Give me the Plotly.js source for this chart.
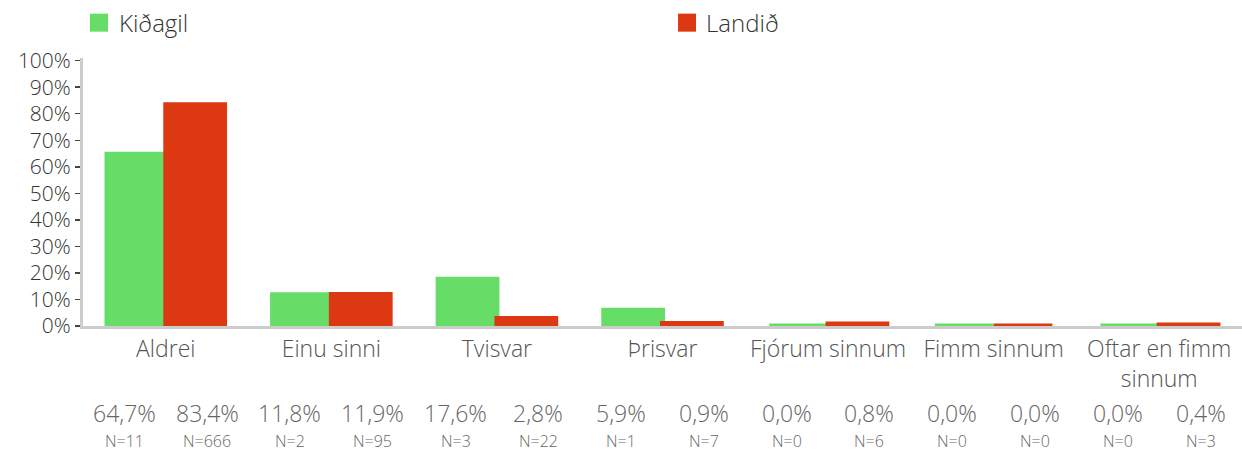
<!DOCTYPE html>
<html>
<head>
<meta charset="utf-8">
<script src="https://cdn.plot.ly/plotly-3.0.1.min.js"></script>
<style>html,body{margin:0;padding:0;background:#fff;}#chart{width:1242px;height:452px;}</style>
</head>
<body>
<div id="chart"></div>
<script>
const categories = ["Aldrei", "Einu sinni", "Tvisvar", "Þrisvar", "Fjórum sinnum", "Fimm sinnum", "Oftar en fimm<br>sinnum"];
const seriesNames = ["Kiðagil", "Landið"];
const kidagilValues = [64.7, 11.8, 17.6, 5.9, 0.0, 0.0, 0.0];
const landidValues = [83.4, 11.9, 2.8, 0.9, 0.8, 0.0, 0.4];
const kidagilN = [11, 2, 3, 1, 0, 0, 0];
const landidN = [666, 95, 22, 7, 6, 0, 3];
const yTickVals = [0, 10, 20, 30, 40, 50, 60, 70, 80, 90, 100];

const GREEN = "#66dd66";
const RED = "#dc3912";
const FONT = "Open Sans";

const traces = [
  {type: "bar", name: seriesNames[0], x: categories.map((c, i) => i), y: kidagilValues,
   marker: {color: GREEN, line: {color: GREEN, width: 5}}, showlegend: false, hoverinfo: "skip"},
  {type: "bar", name: seriesNames[1], x: categories.map((c, i) => i), y: landidValues,
   marker: {color: RED, line: {color: RED, width: 5}}, showlegend: false, hoverinfo: "skip"}
];

const fmt = v => v.toFixed(1).replace(".", ",") + "%";
const annotations = [];
const series = [[kidagilValues, kidagilN, -0.25], [landidValues, landidN, 0.25]];
categories.forEach((c, i) => {
  series.forEach(([vals, ns, off]) => {
    annotations.push({x: i + off, y: 0, xref: "x", yref: "y", yshift: -87, showarrow: false,
      text: fmt(vals[i]), font: {family: FONT, size: 23, color: "#666", weight: 300}, xanchor: "center", yanchor: "middle"});
    annotations.push({x: i + off, y: 0, xref: "x", yref: "y", yshift: -115, showarrow: false,
      text: "N=" + ns[i], font: {family: FONT, size: 16, color: "#666", weight: 300}, xanchor: "center", yanchor: "middle"});
  });
});

// legend
const legendPos = [[0.00604, 0.02157, 0.0295], [0.5134, 0.5289, 0.5358]];
const shapes = [];
seriesNames.forEach((n, k) => {
  const [x0, x1, tx] = legendPos[k];
  shapes.push({type: "rect", xref: "paper", yref: "paper", x0: x0, x1: x1, y0: 1.0983, y1: 1.1655,
    fillcolor: k === 0 ? GREEN : RED, line: {width: 0}});
  annotations.push({xref: "paper", yref: "paper", x: tx, y: 1.1319, text: n, showarrow: false,
    xanchor: "left", yanchor: "middle", font: {family: FONT, size: 24, color: "#333", weight: 300}});
});

const layout = {
  width: 1242, height: 452,
  margin: {l: 83, r: 0, t: 58, b: 126, pad: 0},
  paper_bgcolor: "#fff", plot_bgcolor: "#fff",
  barmode: "group", bargap: 0.29, bargroupgap: 0,
  showlegend: false,
  xaxis: {
    type: "linear", range: [-0.5, 6.5], tickvals: categories.map((c, i) => i), ticktext: categories,
    showgrid: false, zeroline: false, showline: true, linecolor: "#cccccc", linewidth: 3,
    ticks: "", tickfont: {family: FONT, size: 23, color: "#555", weight: 300}, fixedrange: true
  },
  yaxis: {
    range: [0, 101], tickvals: yTickVals, ticktext: yTickVals.map(v => v + "%"),
    showgrid: false, zeroline: false, showline: true, linecolor: "#cccccc", linewidth: 3,
    ticks: "outside", ticklen: 5, tickwidth: 1.5, tickcolor: "#444",
    tickfont: {family: FONT, size: 21, color: "#333", weight: 300}, fixedrange: true
  },
  annotations: annotations,
  shapes: shapes
};

Plotly.newPlot("chart", traces, layout, {displayModeBar: false, staticPlot: true});
</script>
</body>
</html>
